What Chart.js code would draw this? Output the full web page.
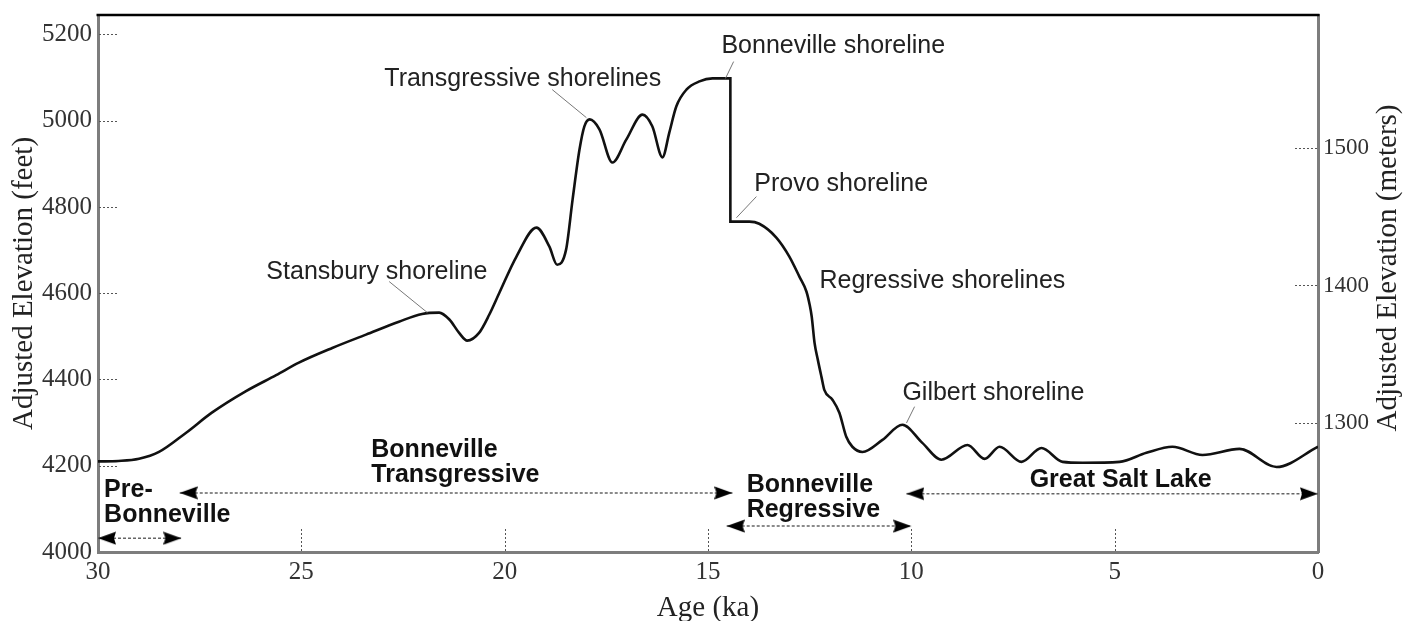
<!DOCTYPE html>
<html><head><meta charset="utf-8">
<script src="https://cdn.jsdelivr.net/npm/chart.js@4.4.1/dist/chart.umd.min.js"></script>
<style>html,body{margin:0;padding:0;background:#fff;}canvas{display:block;}</style>
</head><body>
<canvas id="c" width="1406" height="621"></canvas>
<script>
// ---- data ----
const ages = [30, 29.5, 28.99, 28.5, 27.84, 27.2, 26.36, 25.62, 25.06, 24.24, 23.41, 22.6, 22.03, 21.61, 21.36, 21.12, 20.92, 20.63, 20.38, 20.13, 19.71, 19.22, 18.9, 18.71, 18.49, 18.33, 18.16, 18.04, 17.91, 17.67, 17.35, 17.01, 16.61, 16.37, 16.12, 15.95, 15.78, 15.53, 15.21, 14.89, 14.45, 14.45, 13.98, 13.74, 13.32, 13.0, 12.75, 12.58, 12.5, 12.45, 12.38, 12.3, 12.21, 12.14, 11.94, 11.77, 11.6, 11.45, 11.2, 10.71, 10.22, 9.73, 9.26, 8.62, 8.2, 7.83, 7.29, 6.8, 6.28, 5.79, 4.88, 4.22, 3.58, 2.84, 1.93, 1.02, 0];
const elevFeet = [4210, 4211, 4216, 4232, 4276, 4323, 4373, 4410, 4439, 4473, 4504, 4534, 4552, 4555, 4539, 4508, 4490, 4508, 4550, 4601, 4685, 4752, 4708, 4666, 4701, 4817, 4933, 4987, 5003, 4980, 4903, 4956, 5014, 4987, 4915, 4973, 5033, 5072, 5091, 5098, 5098, 4766, 4766, 4761, 4729, 4685, 4638, 4604, 4573, 4546, 4485, 4446, 4406, 4376, 4353, 4323, 4267, 4244, 4232, 4260, 4295, 4253, 4214, 4248, 4216, 4244, 4209, 4241, 4209, 4207, 4209, 4230, 4244, 4225, 4239, 4197, 4244];

const ageTicks = [25, 20, 15, 10, 5];
const ageLabels = [30, 25, 20, 15, 10, 5, 0];
const feetTicks = [4200, 4400, 4600, 4800, 5000, 5200];
const feetLabels = [4000, 4200, 4400, 4600, 4800, 5000, 5200];
const meterTicks = [1300, 1400, 1500];

const noteText = ['Stansbury shoreline', 'Transgressive shorelines', 'Bonneville shoreline', 'Provo shoreline', 'Regressive shorelines', 'Gilbert shoreline'];
const noteAge = [25.86, 22.96, 14.67, 13.86, 12.26, 10.22];
const noteFeet = [4650, 5096, 5172, 4852, 4627, 4369];
const leaderFrom = [[22.84, 4627], [18.83, 5072], [14.37, 5137], [13.81, 4824], null, [9.92, 4337]];
const leaderTo = [[21.90, 4555], [17.99, 5007], [14.57, 5098], [14.30, 4775], null, [10.12, 4299]];

const phaseText = [['Pre-', 'Bonneville'], ['Bonneville', 'Transgressive'], ['Bonneville', 'Regressive'], ['Great Salt Lake']];
const phaseTextAge = [29.85, 23.28, 14.05, 7.09];
const phaseTextFeet = [4144, 4237, 4156, 4167];
const phaseStart = [30, 27.99, 14.54, 10.12];
const phaseEnd = [27.95, 14.40, 10.0, 0];
const phaseLevel = [4032, 4137, 4060, 4135];

// ---- styling helpers ----
function arrowHead() {
  const L = 18, H = 14;
  const c = document.createElement('canvas');
  c.width = 2 * L; c.height = H;
  const g = c.getContext('2d');
  g.fillStyle = '#000';
  g.beginPath(); g.moveTo(L, H / 2); g.lineTo(0, 0.5); g.lineTo(2, H / 2); g.lineTo(0, H - 0.5); g.closePath(); g.fill();
  return c;
}
const head = arrowHead();

const datasets = [{
  data: ages.map((a, i) => ({x: a, y: elevFeet[i]})),
  showLine: true, borderColor: '#111', borderWidth: 2.6, pointRadius: 0,
  cubicInterpolationMode: 'monotone', yAxisID: 'y'
}];
phaseStart.forEach((s, i) => {
  datasets.push({
    data: [{x: s, y: phaseLevel[i]}, {x: phaseEnd[i], y: phaseLevel[i]}],
    showLine: true, borderColor: '#666', borderWidth: 1.5, borderDash: [3, 2],
    pointStyle: [head, head], pointRotation: [180, 0], pointRadius: 3, yAxisID: 'y'
  });
});

const overlay = {
  id: 'overlay',
  afterDatasetsDraw(chart) {
    const {ctx, chartArea: a, scales: {x, y, y1}} = chart;
    ctx.save();
    // top frame line
    ctx.strokeStyle = '#000'; ctx.lineWidth = 2.5;
    ctx.beginPath(); ctx.moveTo(a.left - 1.5, a.top); ctx.lineTo(a.right + 1.5, a.top); ctx.stroke();
    // inward tick marks
    ctx.strokeStyle = '#555'; ctx.lineWidth = 1; ctx.setLineDash([2, 2]);
    ctx.beginPath();
    ageTicks.forEach(v => { const p = Math.round(x.getPixelForValue(v)) + 0.5; ctx.moveTo(p, a.bottom - 1); ctx.lineTo(p, a.bottom - 23); });
    feetTicks.forEach(v => { const p = Math.round(y.getPixelForValue(v)) + 0.5; ctx.moveTo(a.left + 1, p); ctx.lineTo(a.left + 21, p); });
    meterTicks.forEach(v => { const p = Math.round(y1.getPixelForValue(v)) + 0.5; ctx.moveTo(a.right - 1, p); ctx.lineTo(a.right - 25, p); });
    ctx.stroke();
    ctx.setLineDash([]);
    // leader lines
    ctx.strokeStyle = '#777'; ctx.lineWidth = 1;
    ctx.beginPath();
    leaderFrom.forEach((f, i) => {
      if (!f) return;
      const t = leaderTo[i];
      ctx.moveTo(x.getPixelForValue(f[0]), y.getPixelForValue(f[1]));
      ctx.lineTo(x.getPixelForValue(t[0]), y.getPixelForValue(t[1]));
    });
    ctx.stroke();
    // shoreline notes
    ctx.fillStyle = '#222'; ctx.textAlign = 'left'; ctx.textBaseline = 'middle';
    ctx.font = '25px "Liberation Sans", Arial, sans-serif';
    noteText.forEach((t, i) => ctx.fillText(t, x.getPixelForValue(noteAge[i]), y.getPixelForValue(noteFeet[i])));
    // phase labels
    ctx.fillStyle = '#111';
    ctx.font = 'bold 25px "Liberation Sans", Arial, sans-serif';
    phaseText.forEach((lines, i) => {
      const px = x.getPixelForValue(phaseTextAge[i]), py = y.getPixelForValue(phaseTextFeet[i]);
      lines.forEach((l, k) => ctx.fillText(l, px, py + k * 25));
    });
    // right axis title (reads bottom to top)
    ctx.fillStyle = '#222';
    ctx.font = '29px "Liberation Serif", "Times New Roman", serif';
    ctx.translate(1388, 268); ctx.rotate(-Math.PI / 2);
    ctx.textAlign = 'center';
    ctx.fillText('Adjusted Elevation (meters)', 0, 0);
    ctx.restore();
  }
};

const tickFont = {family: '"Liberation Serif", "Times New Roman", serif', size: 25};
const rightTickFont = {family: '"Liberation Serif", "Times New Roman", serif', size: 23};
const frame = {display: true, color: '#7d7d7d', width: 3};
function zeroPad(s) { s.paddingTop = 0; s.paddingBottom = 0; s.paddingLeft = 0; s.paddingRight = 0; }
const asTicks = vals => s => { s.ticks = vals.map(v => ({value: v})); };

new Chart(document.getElementById('c'), {
  type: 'scatter',
  data: {datasets},
  options: {
    responsive: false, animation: false, devicePixelRatio: 1,
    layout: {padding: {top: 15, left: 0, right: 0, bottom: 0}},
    plugins: {legend: {display: false}, tooltip: {enabled: false}},
    scales: {
      x: {
        type: 'linear', position: 'bottom', reverse: true, min: 0, max: 30,
        afterBuildTicks: asTicks(ageLabels),
        ticks: {font: tickFont, color: '#333', padding: 5, maxRotation: 0, autoSkip: false, callback: v => String(v)},
        grid: {display: false, drawTicks: false}, border: frame,
        title: {display: true, text: 'Age (ka)', color: '#222', padding: {top: 0, bottom: 0},
          font: {family: '"Liberation Serif", "Times New Roman", serif', size: 29, lineHeight: 0.9}},
        afterFit(s) { s.height = 69; zeroPad(s); }
      },
      y: {
        type: 'linear', position: 'left', min: 4000, max: 5245,
        afterBuildTicks: asTicks(feetLabels),
        ticks: {font: tickFont, color: '#333', padding: 6, autoSkip: false, callback: v => String(v)},
        grid: {display: false, drawTicks: false}, border: frame,
        title: {display: true, text: 'Adjusted Elevation (feet)', color: '#222', padding: {top: 10, bottom: 0},
          font: {family: '"Liberation Serif", "Times New Roman", serif', size: 29, lineHeight: 1}},
        afterFit(s) { s.width = 98; zeroPad(s); }
      },
      y1: {
        type: 'linear', position: 'right', min: 1206.2, max: 1596.7,
        afterBuildTicks: asTicks(meterTicks),
        ticks: {font: rightTickFont, color: '#333', padding: 5, autoSkip: false, callback: v => String(v)},
        grid: {display: false, drawTicks: false}, border: frame,
        afterFit(s) { s.width = 88; zeroPad(s); }
      }
    }
  },
  plugins: [overlay]
});
</script>
</body></html>
